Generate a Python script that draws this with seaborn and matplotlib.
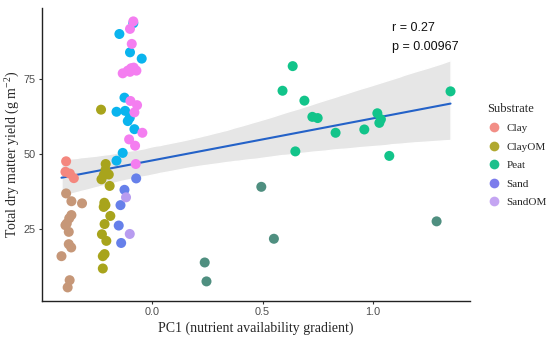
import numpy as np
import pandas as pd
import matplotlib
matplotlib.use("Agg")
import matplotlib.pyplot as plt
from matplotlib.lines import Line2D
import seaborn as sns

# ---------------- data ----------------
substrates = ["Clay", "ClayOM", "Peat", "Sand", "SandOM"]

clay_x = [-0.389, -0.392, -0.372, -0.354, -0.389, -0.365, -0.317, -0.365, -0.375,
          -0.386, -0.392, -0.377, -0.377, -0.366, -0.410, -0.373, -0.382]
clay_y = [47.6, 44.1, 43.5, 42.0, 36.9, 34.3, 33.6, 29.7, 28.6,
          26.9, 26.3, 24.1, 20.0, 18.9, 16.0, 8.0, 5.6]
clay_batch = [1, 1, 1, 1, 2, 2, 2, 2, 2, 2, 2, 2, 2, 2, 2, 2, 2]

clayom_x = [-0.231, -0.210, -0.211, -0.196, -0.219, -0.229, -0.192, -0.216, -0.211,
            -0.219, -0.189, -0.215, -0.227, -0.207, -0.215, -0.223, -0.223]
clayom_y = [64.8, 46.7, 44.7, 43.2, 43.0, 41.6, 39.4, 33.8, 33.0,
            32.4, 29.4, 26.7, 23.3, 21.1, 16.7, 16.0, 11.9]
clayom_batch = [1] * 17

peat_x = [0.636, 0.590, 0.689, 0.725, 0.749, 0.648, 0.830, 0.960, 1.019,
          1.035, 1.028, 1.073, 1.350, 0.494, 0.551, 0.238, 0.246, 1.287]
peat_y = [79.3, 71.1, 67.8, 62.4, 62.0, 50.9, 57.1, 58.2, 63.6,
          61.6, 60.4, 49.4, 70.9, 39.1, 21.8, 13.9, 7.6, 27.6]
peat_batch = [1] * 13 + [2] * 5

sand_x = [-0.085, -0.148, -0.100, -0.047, -0.125, -0.161, -0.122, -0.101, -0.110,
          -0.080, -0.133, -0.161, -0.072, -0.125, -0.143, -0.151, -0.140]
sand_y = [93.6, 90.0, 83.9, 81.8, 68.8, 64.1, 64.4, 62.1, 61.0,
          58.3, 50.4, 47.8, 41.9, 38.1, 33.0, 26.2, 20.4]
sand_batch = [1] * 12 + [2] * 5

sandom_x = [-0.100, -0.092, -0.133, -0.110, -0.095, -0.083, -0.071, -0.100,
            -0.098, -0.068, -0.080, -0.044, -0.104, -0.077, -0.074, -0.085,
            -0.118, -0.101]
sandom_y = [91.7, 86.7, 76.9, 77.8, 78.6, 78.8, 77.8, 77.4,
            67.7, 66.3, 63.9, 57.1, 54.9, 52.8, 46.7, 94.2,
            35.6, 23.4]
sandom_batch = [1] * 16 + [2] * 2

r_text = "r = 0.27"
p_text = "p = 0.00967"

# ---------------- build table ----------------
frames = []
for name, xs, ys, bs in [("Clay", clay_x, clay_y, clay_batch),
                         ("ClayOM", clayom_x, clayom_y, clayom_batch),
                         ("Peat", peat_x, peat_y, peat_batch),
                         ("Sand", sand_x, sand_y, sand_batch),
                         ("SandOM", sandom_x, sandom_y, sandom_batch)]:
    frames.append(pd.DataFrame({"PC1": xs, "Yield": ys, "Substrate": name, "batch": bs}))
df = pd.concat(frames, ignore_index=True)

bright = {"Clay": "#F4877E", "ClayOM": "#A8A41C", "Peat": "#12C48A",
          "Sand": "#0AB4EE", "SandOM": "#F47EF0"}
muted = {"Clay": "#C69778", "ClayOM": "#A8A41C", "Peat": "#4F8F80",
         "Sand": "#6680EA", "SandOM": "#B89CF0"}
legend_cols = {"Clay": "#F28E86", "ClayOM": "#B0A830", "Peat": "#1DC08C",
               "Sand": "#7C7CEC", "SandOM": "#C4A5F2"}

# ---------------- figure ----------------
sns.set_theme(style="ticks")
plt.rcParams["font.family"] = ["Liberation Serif", "DejaVu Serif"]
plt.rcParams["mathtext.default"] = "regular"

fig = plt.figure(figsize=(5.5, 3.37), dpi=100)
ax = fig.add_axes([0.0764, 0.1077, 0.7781, 0.8683])

sns.regplot(data=df, x="PC1", y="Yield", ax=ax, scatter=False, ci=95,
            n_boot=2000, seed=3, color="#2462C8",
            line_kws={"lw": 1.5, "zorder": 3})
# make the band light grey
for coll in ax.collections:
    coll.set_facecolor("#E6E6E6")
    coll.set_alpha(1.0)
    coll.set_zorder(1)

sns.scatterplot(data=df[df.batch == 1], x="PC1", y="Yield", hue="Substrate",
                hue_order=substrates, palette=bright, s=52, linewidth=0,
                ax=ax, legend=False, zorder=4)
sns.scatterplot(data=df[df.batch == 2], x="PC1", y="Yield", hue="Substrate",
                hue_order=substrates, palette=muted, s=52, linewidth=0,
                ax=ax, legend=False, zorder=4)

# ggplot-like 5% expansion
xmn, xmx = df.PC1.min(), df.PC1.max()
ymn, ymx = df.Yield.min(), df.Yield.max()
ax.set_xlim(xmn - 0.05 * (xmx - xmn), xmx + 0.05 * (xmx - xmn))
ax.set_ylim(ymn - 0.05 * (ymx - ymn), ymx + 0.05 * (ymx - ymn))

ax.set_xticks([0.0, 0.5, 1.0])
ax.set_xticklabels(["0.0", "0.5", "1.0"])
ax.set_yticks([25, 50, 75])
ax.set_yticklabels(["25", "50", "75"])
for lab in ax.get_xticklabels() + ax.get_yticklabels():
    lab.set_family(["Liberation Sans", "DejaVu Sans"])
    lab.set_fontsize(7.8)
    lab.set_color("#4D4D4D")
ax.tick_params(length=2.5, width=0.8, color="#333333", pad=2)

sns.despine(ax=ax)
for sp in ["left", "bottom"]:
    ax.spines[sp].set_linewidth(1.0)
    ax.spines[sp].set_color("#222222")

ax.set_xlabel("PC1 (nutrient availability gradient)", fontsize=10, labelpad=3)
ax.set_ylabel("Total dry matter yield (g m$^{-2}$)", fontsize=10, labelpad=1)

ax.text(0.818, 0.92, r_text, transform=ax.transAxes, fontsize=9,
        family=["Liberation Sans", "DejaVu Sans"], color="#111111")
ax.text(0.818, 0.858, p_text, transform=ax.transAxes, fontsize=9,
        family=["Liberation Sans", "DejaVu Sans"], color="#111111")

handles = [Line2D([], [], marker="o", linestyle="", markersize=7,
                  markerfacecolor=legend_cols[s], markeredgewidth=0)
           for s in substrates]
leg = fig.legend(handles, substrates, title="Substrate", loc="upper left",
                 bbox_to_anchor=(0.878, 0.708), frameon=False, fontsize=8,
                 title_fontsize=9, handletextpad=0.5, labelspacing=0.78,
                 borderaxespad=0, handlelength=1.2)
leg._legend_box.align = "left"

fig.savefig("out.png", dpi=100)
